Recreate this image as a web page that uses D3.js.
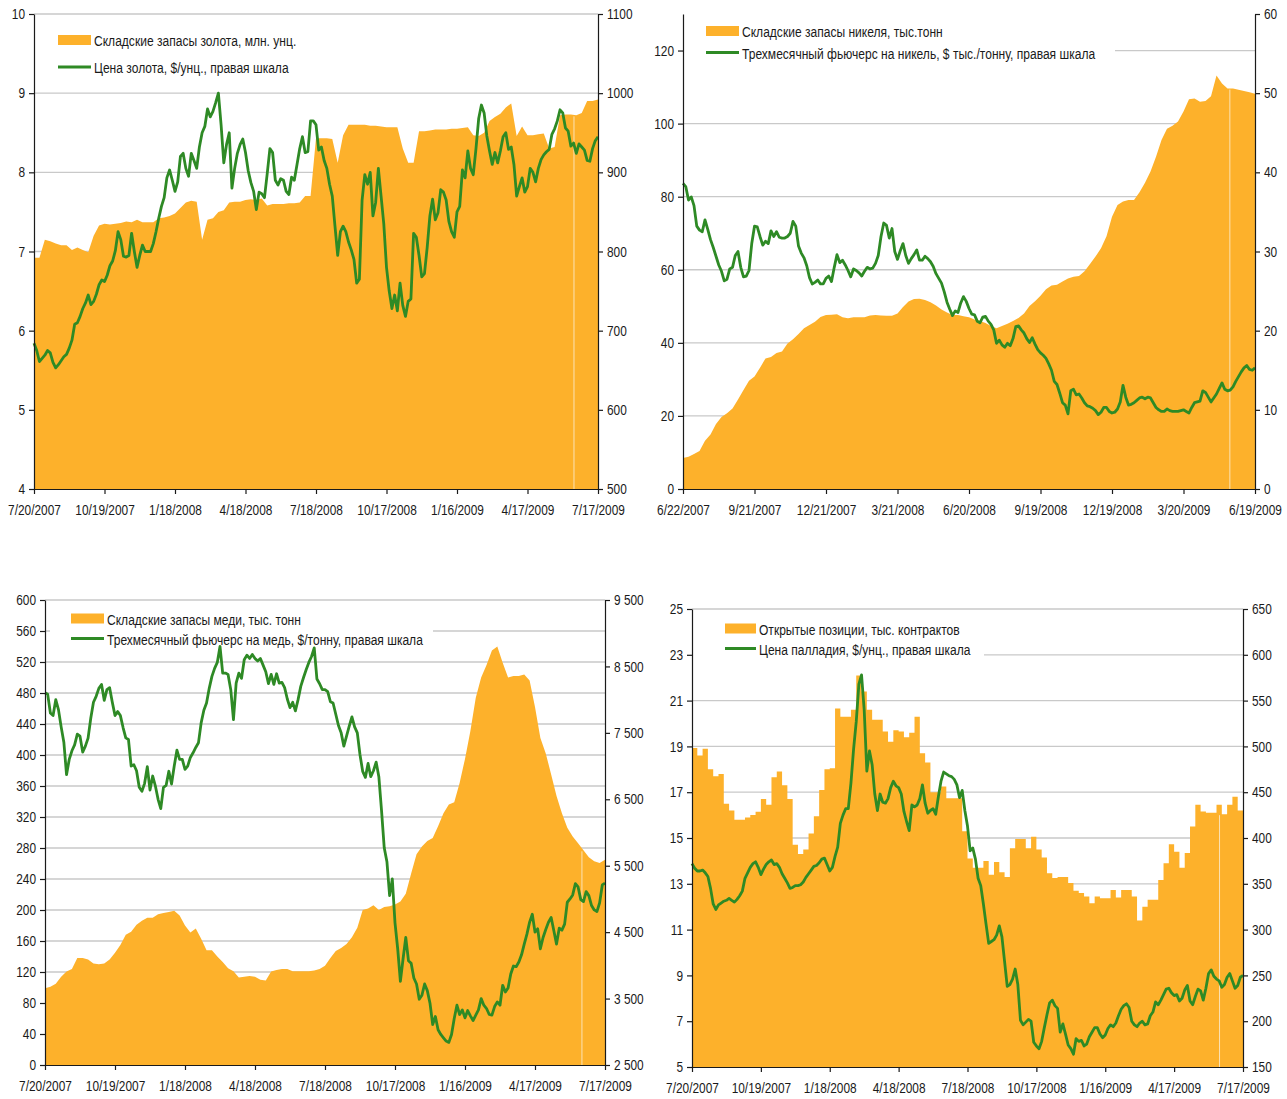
<!DOCTYPE html>
<html>
<head>
<meta charset="utf-8">
<script src="https://d3js.org/d3.v7.min.js"></script>
<style>
body { margin:0; background:#fff; }
</style>
</head>
<body>
<svg id="chart" width="1287" height="1099"></svg>
<script>
// stocks: weekly readings; prices: twice-weekly readings.
// each series runs from the first to the last tick date, evenly spaced.
const goldStock = [6.92,6.92,7.15,7.13,7.10,7.08,7.08,7.02,7.05,7.02,
  6.99,7.20,7.33,7.35,7.34,7.35,7.36,7.38,7.37,7.40,
  7.37,7.37,7.37,7.42,7.43,7.45,7.48,7.55,7.62,7.64,
  7.63,7.15,7.40,7.42,7.50,7.52,7.62,7.63,7.63,7.65,
  7.66,7.65,7.67,7.58,7.60,7.60,7.60,7.61,7.61,7.62,
  7.70,7.70,8.43,8.43,8.43,8.42,8.12,8.47,8.60,8.60,
  8.60,8.60,8.59,8.59,8.58,8.57,8.57,8.57,8.30,8.12,
  8.12,8.52,8.52,8.53,8.54,8.54,8.54,8.55,8.55,8.56,
  8.57,8.47,8.46,8.50,8.65,8.70,8.74,8.82,8.87,8.46,
  8.58,8.47,8.47,8.48,8.49,8.30,8.32,8.72,8.73,8.73,
  8.72,8.75,8.90,8.90,8.92];
const goldPrice = [684,675,661,665,669,675,672,660,653,657,
  662,667,670,678,688,708,710,718,728,735,
  745,733,737,746,758,764,762,770,782,788,
  801,825,815,794,793,795,823,800,780,795,
  808,800,800,800,810,825,842,857,868,893,
  903,890,876,888,920,924,905,895,924,915,
  905,932,950,958,980,970,977,988,1000,960,
  912,935,950,880,905,924,935,942,925,902,
  887,876,853,875,873,868,898,930,925,890,
  884,892,890,876,872,894,890,910,930,945,
  925,926,965,965,960,928,932,915,905,885,
  870,832,795,825,832,825,812,802,790,760,
  765,865,897,885,900,845,862,905,870,835,
  780,750,728,745,725,760,732,718,737,740,
  823,818,795,768,772,805,845,866,840,849,
  878,875,865,838,825,818,850,857,903,893,
  927,905,897,930,968,985,975,946,927,910,
  925,912,927,945,950,929,932,910,870,882,
  893,875,882,905,900,888,905,916,922,926,
  929,948,955,965,979,975,956,952,933,937,
  924,936,932,928,915,914,930,940,945];

const nickelStock = [8.5,8.8,9.6,10.4,13.2,14.9,17.8,19.7,20.7,22.0,
  24.5,27.1,29.6,30.8,33.2,35.7,36.1,37.2,37.6,39.8,
  41.0,42.4,44.0,44.9,45.8,47.1,47.6,47.7,47.8,47.0,
  46.7,47.0,47.0,47.0,47.5,47.6,47.5,47.4,47.4,48.0,
  49.8,51.3,52.0,52.1,51.7,51.1,50.2,49.1,48.3,47.6,
  47.6,47.3,47.0,46.4,46.0,45.4,44.6,44.0,44.6,45.2,
  46.0,46.8,48.0,50.1,51.4,52.9,54.7,55.7,55.9,56.8,
  57.6,58.1,58.3,59.6,61.6,63.6,65.9,69.2,74.5,77.7,
  78.7,79.1,79.1,81.2,83.8,86.9,90.9,95.5,98.6,99.4,
  100.6,103.3,106.7,106.9,106.0,106.2,107.5,113.2,111.0,109.6,
  109.6,109.3,108.9,108.6,108.2];
const nickelPrice = [38.6,38.2,36.5,36.9,35.8,33.2,32.7,32.5,34.0,32.8,
  31.5,30.5,29.4,28.3,27.5,26.3,26.5,27.8,28.0,29.5,
  30.0,28.0,26.8,26.9,27.6,31.0,33.2,33.1,31.9,30.8,
  31.3,31.0,32.6,31.9,32.5,31.8,31.7,31.7,31.9,32.3,
  33.8,33.2,30.7,29.8,29.2,28.2,26.7,25.9,26.1,26.4,
  25.9,25.9,26.6,26.9,26.2,28.0,29.6,28.6,28.9,28.3,
  27.6,26.8,27.8,27.6,27.3,26.9,27.5,28.0,27.8,27.9,
  28.5,29.5,31.9,33.6,33.3,31.7,32.9,30.0,29.0,30.1,
  31.0,29.5,28.5,29.1,29.6,30.2,28.9,28.9,29.4,29.1,
  28.7,28.1,27.2,26.6,26.0,24.9,23.6,22.7,21.9,22.5,
  22.3,23.5,24.3,23.7,22.8,22.1,22.0,21.2,21.0,21.7,
  21.8,21.2,20.8,20.1,18.4,18.8,18.2,17.9,18.4,18.1,
  19.0,20.5,20.6,20.1,19.7,19.0,18.5,19.1,18.3,17.6,
  17.2,16.9,16.5,15.8,15.0,13.6,13.2,12.1,10.9,10.6,
  9.5,12.4,12.6,11.9,12.0,11.5,10.9,10.5,10.4,10.2,
  9.9,9.4,9.7,10.3,10.3,9.8,9.6,9.7,10.1,11.0,
  13.1,11.6,10.6,10.7,10.9,11.2,11.5,11.6,11.4,11.6,
  11.5,10.9,10.3,10.0,9.8,9.8,10.1,9.9,9.8,9.8,
  9.8,9.9,10.0,9.8,9.6,10.3,10.9,11.0,11.1,12.4,
  12.2,11.6,11.0,11.5,12.0,12.7,13.4,12.6,12.4,12.5,
  12.9,13.6,14.2,14.8,15.3,15.6,15.1,15.0,15.3];

const copperStock = [99,101,105,114,120.5,124,138,138,136,131,
  130,131,136,145,155,168,172,181,186,190,
  190,194.5,196,197.5,199,193,180,171,176,163,
  148,148,140,133,125,121,113,114,115,114,
  110,109,120.6,122.5,124,124,121,121,121,121,
  122,124,128,138,147,151,156,165,177,200,
  202,206,200,204,205,207,211,221,247,272,
  282,289,293,308,325,336,339,364,395,431,
  474,500,516,535,540,519,500,502,502,504,
  496,462,422,402,375,347,325,306,295,286,
  277,268,263,260.5,265];
const copperPrice = [8103,8080,7800,7760,8000,7850,7590,7360,6870,7100,
  7230,7320,7480,7450,7210,7300,7420,7720,7960,8050,
  8170,8228,7990,8150,8180,7960,7760,7820,7760,7580,
  7425,7400,7000,7020,6930,6680,6620,6740,6990,6640,
  6850,6700,6500,6360,6680,6710,6922,6730,7000,7240,
  7100,7100,6950,7000,7130,7200,7280,7350,7650,7840,
  7950,8170,8350,8470,8560,8800,8400,8400,8380,8150,
  7700,8250,8400,8320,8600,8670,8620,8680,8620,8580,
  8620,8520,8420,8240,8379,8230,8390,8250,8260,8180,
  8010,7880,7960,7830,8000,8200,8330,8450,8560,8650,
  8780,8310,8240,8150,8150,8120,7970,7950,7780,7610,
  7500,7300,7450,7600,7740,7590,7500,7170,6920,6830,
  7040,6840,6930,7060,6840,6330,5770,5560,5050,5300,
  4640,4250,3760,4100,4420,4070,4030,3810,3720,3490,
  3550,3720,3620,3430,3110,3230,3030,2960,2910,2860,
  2840,2960,3200,3400,3260,3330,3210,3320,3240,3170,
  3250,3330,3500,3400,3350,3260,3250,3380,3450,3400,
  3700,3600,3660,3870,3990,3980,4050,4158,4320,4470,
  4650,4770,4500,4550,4250,4420,4540,4650,4720,4520,
  4320,4560,4530,4620,4950,5000,5060,5230,5180,4990,
  4960,5110,5050,4900,4835,4810,4940,5210,5239];

const pallOpen = [18.93,18.6,18.9,18.0,17.7,17.8,16.5,16.2,15.8,15.8,
  15.9,16.0,16.15,16.7,16.45,17.65,17.9,17.3,16.7,14.7,
  14.3,14.5,15.2,15.95,17.1,18.0,18.05,20.65,20.3,20.3,
  20.6,22.1,21.4,20.6,20.16,20.16,19.65,19.2,19.7,19.65,
  19.4,19.6,20.3,18.7,18.3,17.0,17.0,17.25,16.74,16.74,
  16.74,15.3,14.1,13.7,13.7,14.0,13.4,13.95,13.5,13.3,
  14.55,14.96,14.96,14.55,15.06,14.5,14.15,13.46,13.25,13.3,
  13.3,13.03,12.7,12.6,12.45,12.15,12.45,12.37,12.37,12.73,
  12.4,12.73,12.73,12.45,11.4,12.0,12.3,12.3,13.17,13.9,
  14.73,14.4,13.7,14.34,15.5,16.45,16.16,16.1,16.1,16.45,
  16.04,16.45,16.8,16.2,16.2];
const pallPrice = [372,367,364,364,365,362,358,345,328,322,
  327,329,331,332,334,332,330,333,337,342,
  356,362,368,372,374,368,360,366,371,374,
  376,371,372,368,361,356,351,345,346,348,
  348,349,352,357,361,365,369,370,373,377,
  378,371,364,368,380,390,416,425,432,432,
  460,497,527,568,578,540,473,495,480,448,
  430,448,439,438,443,455,462,457,455,448,
  429,418,408,436,434,436,443,458,438,427,
  430,432,426,445,462,472,470,468,467,464,
  458,444,452,430,413,386,389,377,356,348,
  328,306,285,287,289,294,304,292,265,238,
  240,246,257,240,201,196,199,202,200,177,
  173,170,178,193,207,220,223,217,214,188,
  197,186,174,170,164,181,178,179,173,175,
  183,188,193,193,186,182,185,192,196,194,
  198,206,213,217,219,215,200,196,194,198,
  200,196,197,206,210,221,218,223,229,235,
  236,231,228,229,222,225,234,239,222,218,
  227,235,233,223,236,252,256,249,246,244,
  237,240,248,252,244,236,239,248,250];

const ticksJul = ["7/20/2007","10/19/2007","1/18/2008","4/18/2008","7/18/2008","10/17/2008","1/16/2009","4/17/2009","7/17/2009"];
const ticksJun = ["6/22/2007","9/21/2007","12/21/2007","3/21/2008","6/20/2008","9/19/2008","12/19/2008","3/20/2009","6/19/2009"];

const FONT = '"Liberation Sans", Arial, sans-serif';
const SX = 0.82;   // squeeze Arial into an Arial Narrow look
const ORANGE = "#fdb12b";
const GREEN = "#2e8a25";

const parseDate = d3.timeParse("%m/%d/%Y");
const spaced = d3.formatLocale({decimal: ",", thousands: " ", grouping: [3], currency: ["", ""]}).format(",");
const whole = d3.format("d");

const panels = [
  {x0:34, x1:598, y0:14, y1:489, ticks:ticksJul, area:goldStock, line:goldPrice,
   left:[4,10], leftTicks:d3.range(4,11,1), grid:d3.range(5,11,1),
   right:[500,1100], rightTicks:d3.range(500,1101,100), rfmt:whole,
   curve:d3.curveLinear, seam:"6/16/2009",
   box:[40,22,270,62], sw:[58,91], rows:[40,67],
   labels:["Складские запасы золота, млн. унц.","Цена золота, $/унц., правая шкала"]},
  {x0:683, x1:1255, y0:14, y1:489, ticks:ticksJun, area:nickelStock, line:nickelPrice,
   left:[0,130], leftTicks:d3.range(0,121,20), grid:d3.range(20,121,20),
   right:[0,60], rightTicks:d3.range(0,61,10), rfmt:whole,
   curve:d3.curveLinear, seam:"5/18/2009",
   box:[684,18,431,45], sw:[706,739], rows:[31,52.5],
   labels:["Складские запасы никеля, тыс.тонн","Трехмесячный фьючерс на никель, $ тыс./тонну, правая шкала"]},
  {x0:45, x1:605, y0:600, y1:1065, ticks:ticksJul, area:copperStock, line:copperPrice,
   left:[0,600], leftTicks:d3.range(0,601,40), grid:d3.range(40,601,40),
   right:[2500,9500], rightTicks:d3.range(2500,9501,1000), rfmt:spaced,
   curve:d3.curveLinear, seam:"6/17/2009",
   box:[50,604,383,46], sw:[71,104], rows:[618.5,638.5],
   labels:["Складские запасы меди, тыс. тонн","Трехмесячный фьючерс на медь, $/тонну, правая шкала"]},
  {x0:692, x1:1243, y0:609, y1:1067, ticks:ticksJul, area:pallOpen, line:pallPrice,
   left:[5,25], leftTicks:d3.range(5,26,2), grid:d3.range(7,26,2),
   right:[150,650], rightTicks:d3.range(150,651,50), rfmt:whole,
   curve:d3.curveStepAfter, seam:"6/16/2009",
   box:[693,614,291,46], sw:[725,756], rows:[628.5,648.5],
   labels:["Открытые позиции, тыс. контрактов","Цена палладия, $/унц., правая шкала"]}
];

const svg = d3.select("#chart");

function narrow(sel) {
  sel.each(function() {
    const t = d3.select(this);
    const x = +t.attr("x") || 0;
    t.attr("x", x / SX).attr("transform", "scale(" + SX + ",1)");
  });
}

function styleAxis(g) {
  g.attr("font-family", FONT).attr("font-size", 14.5).attr("color", "#1a1a1a");
  g.select(".domain").attr("stroke-width", 1.2);
  g.selectAll(".tick line").attr("stroke-width", 1.2);
  g.selectAll(".tick text").call(narrow);
}

// evenly spaced dates between first and last tick
function spread(start, end, n) {
  const step = (end - start) / (n - 1);
  return d3.range(n).map(i => new Date(+start + i * step));
}

panels.forEach(p => {
  const start = parseDate(p.ticks[0]);
  const end = parseDate(p.ticks[p.ticks.length - 1]);
  const areaDates = spread(start, end, p.area.length);
  const lineDates = spread(start, end, p.line.length);

  const x = d3.scaleTime().domain([start, end]).range([p.x0, p.x1]);
  const yL = d3.scaleLinear().domain(p.left).range([p.y1, p.y0]);
  const yR = d3.scaleLinear().domain(p.right).range([p.y1, p.y0]);

  const g = svg.append("g");

  g.append("g").selectAll("line")
    .data(p.grid)
    .join("line")
      .attr("x1", p.x0).attr("x2", p.x1)
      .attr("y1", d => yL(d)).attr("y2", d => yL(d))
      .attr("stroke", "#c9c9c9")
      .attr("stroke-width", 1.3);

  // white legend backdrop hides the gridline behind it
  g.append("rect")
    .attr("x", p.box[0]).attr("y", p.box[1])
    .attr("width", p.box[2]).attr("height", p.box[3])
    .attr("fill", "#fff");

  const area = d3.area()
    .x((d, i) => x(areaDates[i]))
    .y0(p.y1)
    .y1(d => yL(d))
    .curve(p.curve);
  g.append("path").datum(p.area).attr("d", area).attr("fill", ORANGE);

  // faint seam in the filled area near the end
  const sd = parseDate(p.seam);
  const si = d3.bisectLeft(areaDates, sd);
  g.append("line")
    .attr("x1", x(sd)).attr("x2", x(sd))
    .attr("y1", p.y1).attr("y2", yL(p.area[si]) + 1)
    .attr("stroke", "#fce2b4").attr("stroke-width", 1);

  const line = d3.line()
    .x((d, i) => x(lineDates[i]))
    .y(d => yR(d));
  g.append("path").datum(p.line).attr("d", line)
    .attr("fill", "none").attr("stroke", GREEN)
    .attr("stroke-width", 2.8).attr("stroke-linejoin", "round");

  g.append("g").attr("transform", "translate(" + p.x0 + ",0)")
    .call(d3.axisLeft(yL).tickValues(p.leftTicks).tickFormat(whole).tickSize(5).tickSizeOuter(0).tickPadding(4))
    .call(styleAxis);
  g.append("g").attr("transform", "translate(" + p.x1 + ",0)")
    .call(d3.axisRight(yR).tickValues(p.rightTicks).tickFormat(p.rfmt).tickSize(5).tickSizeOuter(0).tickPadding(4))
    .call(styleAxis);
  g.append("g").attr("transform", "translate(0," + p.y1 + ")")
    .call(d3.axisBottom(x).tickValues(p.ticks.map(parseDate)).tickFormat((d, i) => p.ticks[i])
      .tickSize(5).tickSizeOuter(0).tickPadding(11))
    .call(styleAxis);

  // legend
  const lg = g.append("g").attr("font-family", FONT).attr("font-size", 14.7).attr("fill", "#1a1a1a");
  lg.append("rect")
    .attr("x", p.sw[0]).attr("y", p.rows[0] - 5)
    .attr("width", p.sw[1] - p.sw[0]).attr("height", 10)
    .attr("fill", ORANGE);
  lg.append("line")
    .attr("x1", p.sw[0]).attr("x2", p.sw[1])
    .attr("y1", p.rows[1]).attr("y2", p.rows[1])
    .attr("stroke", GREEN).attr("stroke-width", 3);
  lg.selectAll("text")
    .data(p.labels)
    .join("text")
      .attr("x", p.sw[1] + 3)
      .attr("y", (d, i) => p.rows[i] + 1)
      .attr("dy", "0.35em")
      .text(d => d)
      .call(narrow);
});
</script>
</body>
</html>
